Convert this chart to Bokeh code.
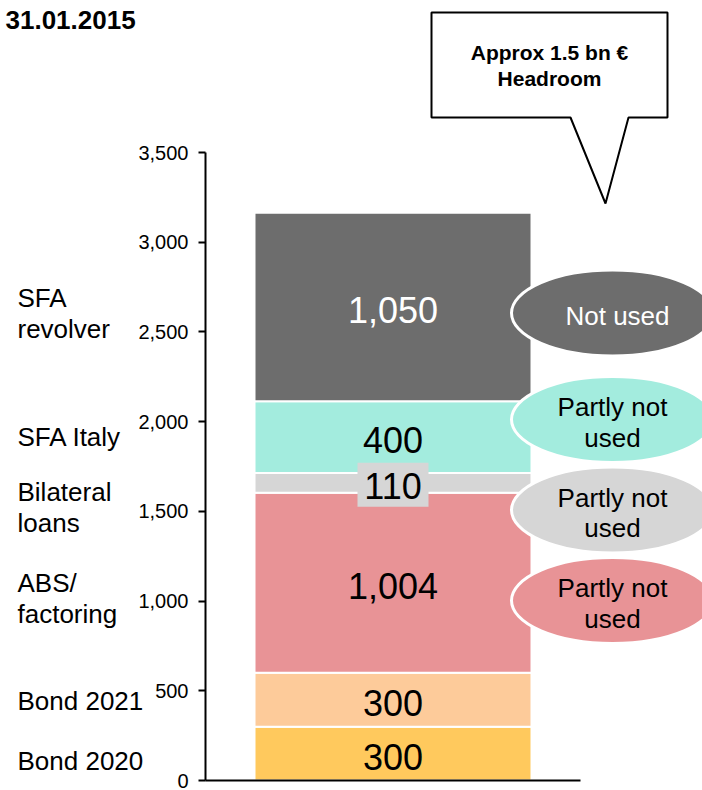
from bokeh.plotting import figure
from bokeh.models import ColumnDataSource, Range1d, FixedTicker, NumeralTickFormatter, LinearAxis
from bokeh.core.properties import value
from bokeh.embed import file_html
from bokeh.resources import INLINE
import numpy as np

# ---------------- data ----------------
title_text = "31.01.2015"
categories = ["Bond 2020", "Bond 2021", "ABS/\nfactoring", "Bilateral\nloans", "SFA Italy", "SFA\nrevolver"]
amounts = [300, 300, 1004, 110, 400, 1050]
value_labels = ["300", "300", "1,004", "110", "400", "1,050"]
status_labels = ["Partly not\nused", "Partly not\nused", "Partly not\nused", "Not used"]
y_ticks = [0, 500, 1000, 1500, 2000, 2500, 3000, 3500]
callout_lines = ["Approx 1.5 bn €", "Headroom"]

# ---------------- styles / layout ----------------
seg_colors = ["#FFC95D", "#FDCB9A", "#E89396", "#D6D6D6", "#A3ECDE", "#6D6D6D"]
seg_text_colors = ["black", "black", "black", "black", "black", "white"]
status_fill = ["#E89396", "#D6D6D6", "#A3ECDE", "#6D6D6D"]
status_text_color = ["black", "black", "black", "white"]
FONT = "Liberation Sans"

W, H = 702, 790
K = 628 / 3500.0          # pixels per unit
Y0 = 780                  # canvas y of zero


def dy(py):
    return (Y0 - py) / K


p = figure(width=W, height=H, output_backend="svg", toolbar_location=None,
           x_range=Range1d(0, W), y_range=Range1d(dy(H), dy(0)),
           x_axis_type=None, min_border=0, outline_line_color=None,
           background_fill_color="white", border_fill_color="white")
p.grid.visible = False

# y axis drawn at fixed location inside frame
ya = p.yaxis[0]
ya.fixed_location = 205
ya.ticker = FixedTicker(ticks=y_ticks)
ya.formatter = NumeralTickFormatter(format="0,0")
ya.bounds = (y_ticks[0], y_ticks[-1])
ya.axis_line_width = 2
ya.axis_line_color = "black"
ya.major_tick_line_width = 2
ya.major_tick_out = 7
ya.major_tick_in = 0
ya.minor_tick_line_color = None
ya.major_label_standoff = 10
ya.major_label_text_font = FONT
ya.major_label_text_font_size = "20px"
ya.major_label_text_color = "black"

# baseline
xa = LinearAxis(fixed_location=0, ticker=FixedTicker(ticks=[]),
                major_label_text_font_size="0px", axis_line_width=2,
                axis_line_color="black", major_tick_line_color=None,
                minor_tick_line_color=None, bounds=(205, 580))
p.add_layout(xa, "below")

# stacked bar
amt = np.array(amounts, dtype=float)
tops = np.cumsum(amt)
bottoms = tops - amt
mids = (tops + bottoms) / 2
BAR_X, BAR_W = 392.5, 277
src = ColumnDataSource(dict(bottom=bottoms, top=tops, mid=mids, color=seg_colors,
                            label=value_labels, tcolor=seg_text_colors))
p.vbar(x=BAR_X, width=BAR_W, bottom="bottom", top="top", fill_color="color",
       line_color="white", line_width=2, source=src)

# gray box behind small label (bilateral loans)
i_small = int(np.argmin(amt))
p.rect(x=BAR_X, y=mids[i_small] - 2 / K, width=71, height=44, width_units="screen",
       height_units="screen", fill_color=seg_colors[i_small], line_color=None)

p.text(x=BAR_X, y="mid", text="label", text_color="tcolor", source=src,
       text_font=value(FONT), text_font_size="36px", text_align="center",
       text_baseline="middle", y_offset=3)

# status ellipses
ell_y = [dy(600), dy(509.5), dy(419), dy(312.5)]
ell_tx = [612, 612, 612, 617]
esrc = ColumnDataSource(dict(y=ell_y, tx=ell_tx, fill=status_fill, text=status_labels,
                             tcolor=status_text_color))
p.ellipse(x=612, y="y", width=202, height=86, width_units="screen", height_units="screen",
          fill_color="fill", line_color="white", line_width=3, source=esrc)
p.text(x="tx", y="y", text="text", text_color="tcolor", source=esrc,
       text_font=value(FONT), text_font_size="26px", text_align="center",
       text_baseline="middle", text_line_height=1.03, y_offset=3)

# category labels on the left
cat_y = [dy(760), dy(700), dy(598), dy(507), dy(436), dy(313)]
csrc = ColumnDataSource(dict(y=cat_y, text=categories))
p.text(x=17, y="y", text="text", source=csrc, text_font=value(FONT),
       text_font_size="26px", text_align="left", text_baseline="middle",
       text_line_height=1.03, text_color="black")

# callout box
cx = [431, 667, 667, 628, 605, 570, 431]
cy = [12, 12, 117, 117, 203, 117, 117]
p.patch(x=cx, y=[dy(v) for v in cy], fill_color="white", line_color="black", line_width=2)
p.text(x=[549, 549], y=[dy(52), dy(78)], text=callout_lines, text_font=value(FONT),
       text_font_size="21px", text_font_style="bold", text_align="center",
       text_baseline="middle", text_color="black")

# title
p.text(x=[5], y=[dy(19)], text=[title_text], text_font=value(FONT), text_font_size="26px",
       text_font_style="bold", text_align="left", text_baseline="alphabetic",
       text_color="black")

open("out.html", "w").write(file_html(p, INLINE))
